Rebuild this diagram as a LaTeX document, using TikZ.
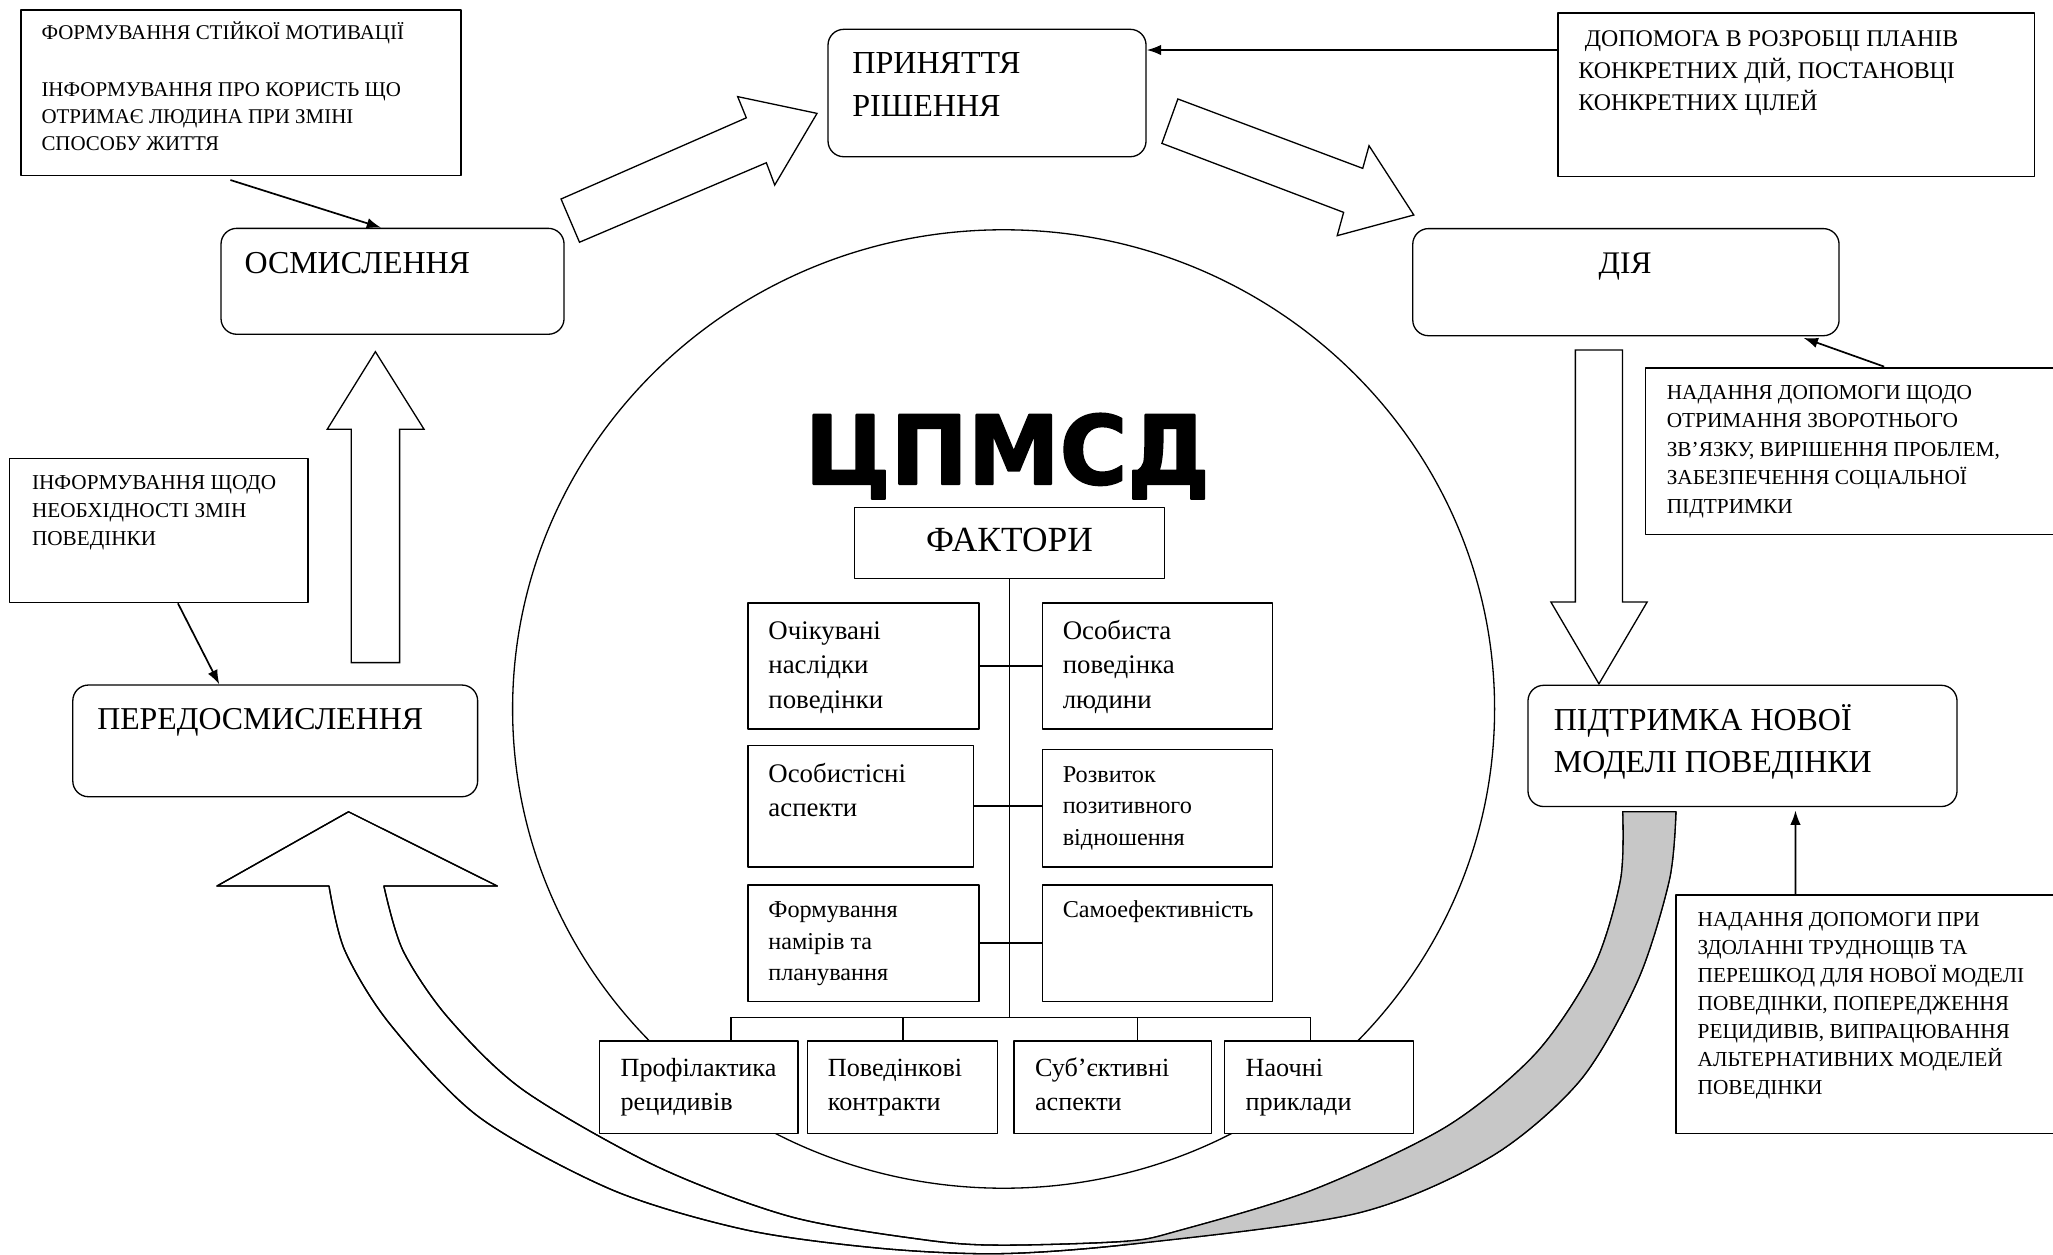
\documentclass[tikz,border=0pt]{standalone}
\usepackage{fontspec}
\setmainfont{Liberation Serif}
\newfontfamily\bigsans{DejaVu Sans}[BoldFeatures={FakeBold=2}]
\usetikzlibrary{calc,arrows.meta}
\newcommand\fs[2]{\fontsize{#1}{#2}\selectfont}
\newcommand\mlines[3]{\parbox[t]{400pt}{\fs{#1}{#2}#3}}
\begin{document}
\begin{tikzpicture}[x=1pt,y=-1pt,line join=round,
  sqbox/.style={draw, fill=white, line width=1pt, inner sep=0pt},
  rbox/.style={draw, fill=white, line width=1pt, rounded corners=12pt, inner sep=0pt},
  txt/.style={anchor=base west, inner sep=0pt, outer sep=0pt},
  arr/.style={line width=1.3pt, -{Latex[length=11pt,width=8pt]}},
  barrow/.style={draw, fill=white, line width=1pt, line join=miter},
  tline/.style={line width=1pt},
  ribbon/.style={insert path={(266.2,620) -- (165.7,676.7) -- (251.3,676.7)
    -- plot[smooth] coordinates {(251.3,676.7) (263.2,725.6) (297.4,781.6) (365.5,852.9) (467.8,908.9) (570,939.4) (672.4,953.4) (763.8,957.5) (866,950) (1036.6,926.6) (1138.8,883.4) (1207,825) (1251,748.5) (1275,672) (1280,620)}
    -- (1239.4,620)
    -- plot[smooth] coordinates {(1239.4,620) (1237.7,672) (1217.3,738.3) (1173,804.5) (1104.7,860.5) (1002.4,908.9) (900,940) (860,948) (763.8,951) (706.5,947) (604,929.3) (501.9,891) (399.6,832.5) (341.6,776.5) (307.6,725.6) (293.2,676.7)}
    -- (379.8,676.7) -- cycle}}
]
\path[use as bounding box, fill=white] (0,0) rectangle (1568,958);

% big circle
\draw[line width=1pt] (766.5,541.5) ellipse [x radius=375pt, y radius=366pt];

% curved ribbon arrow
\filldraw[fill=white, draw=black, line width=1pt, ribbon];
\begin{scope}
  \clip (858,600) rectangle (1300,970);
  \fill[black!22, ribbon];
\end{scope}
\draw[line width=1pt, ribbon];

% stage boxes
\node[rbox, minimum width=262pt, minimum height=80.9pt] (osm) at (299.8,214.85) {};
\node[rbox, minimum width=242.9pt, minimum height=97.3pt] (prin) at (753.85,71.05) {};
\node[rbox, minimum width=325.6pt, minimum height=81.8pt] (dia) at (1241.8,215.5) {};
\node[rbox, minimum width=327.7pt, minimum height=92.6pt] (pidtr) at (1330.85,569.7) {};
\node[rbox, minimum width=309.2pt, minimum height=85.3pt] (pered) at (210.2,565.85) {};

% info boxes
\node[sqbox, minimum width=336pt, minimum height=126.6pt] (tl) at (184,70.9) {};
\node[sqbox, minimum width=364pt, minimum height=125pt] (dop) at (1372,72.5) {};
\node[sqbox, minimum width=318pt, minimum height=127pt] (nad1) at (1416,344.5) {};
\node[sqbox, minimum width=295pt, minimum height=181.9pt] (nad2) at (1427.5,774.55) {};
\node[sqbox, minimum width=227.8pt, minimum height=110.3pt] (inf) at (121.4,405.15) {};

% factors tree
\node[sqbox, minimum width=236.5pt, minimum height=54.5pt] (fakt) at (771.05,414.75) {};
\coordinate (barL) at (558.3,777);
\coordinate (barR) at (1001,777);
\coordinate (d2) at (689.7,777);
\coordinate (d3) at (868.6,777);
\draw[tline] (fakt.south) -- (fakt.south |- barL);
\draw[tline] (barL) -- (barR);
\node[sqbox, minimum width=176.2pt, minimum height=96.3pt] (f1) at (659.5,508.65) {};
\node[sqbox, minimum width=176pt, minimum height=96.3pt] (f2) at (884,508.65) {};
\node[sqbox, minimum width=172.1pt, minimum height=92.9pt] (f3) at (657.45,615.65) {};
\node[sqbox, minimum width=176pt, minimum height=89.7pt] (f4) at (884,617.25) {};
\node[sqbox, minimum width=176.2pt, minimum height=88.8pt] (f5) at (659.5,720.3) {};
\node[sqbox, minimum width=176pt, minimum height=88.8pt] (f6) at (884,720.3) {};
\node[sqbox, minimum width=151.5pt, minimum height=70.6pt] (b1) at (533.65,830.3) {};
\node[sqbox, minimum width=145.2pt, minimum height=70.6pt] (b2) at (689.3,830.3) {};
\node[sqbox, minimum width=151pt, minimum height=70.6pt] (b3) at (850,830.3) {};
\node[sqbox, minimum width=144.2pt, minimum height=70.6pt] (b4) at (1007.3,830.3) {};
\draw[tline] (f1.east) -- (f2.west);
\draw[tline] (f3.east) -- (f3.east -| f4.west);
\draw[tline] (f5.east) -- (f6.west);
\draw[tline] (barL) -- (barL |- b1.north);
\draw[tline] (d2) -- (d2 |- b2.north);
\draw[tline] (d3) -- (d3 |- b3.north);
\draw[tline] (barR) -- (barR |- b4.north);

% block arrows
\path[barrow] (428.5,152) -- (570,90) -- (563.4,73.8) -- (624,86.6) -- (591.7,141.3) -- (585.3,124.3) -- (442.6,185) -- cycle;
\path[barrow] (899.6,75.6) -- (1040.8,128.6) -- (1045.6,111.3) -- (1079.8,164.2) -- (1021.3,180) -- (1026.2,162.2) -- (887.4,109.5) -- cycle;
\path[barrow] (1203.2,267.3) -- (1239.2,267.3) -- (1239.2,459.8) -- (1258,459.8) -- (1221.2,522.3) -- (1184.5,459.8) -- (1203.2,459.8) -- cycle;
\path[barrow] (268.3,506.1) -- (305.2,506.1) -- (305.2,327.9) -- (323.9,327.9) -- (286.7,268.6) -- (249.9,327.9) -- (268.3,327.9) -- cycle;

% thin arrows
\coordinate (tlA) at (176,137.5);
\draw[arr] (tlA) -- ($(osm.north west)+(122.8,0)$);
\draw[arr] ($(dop.north west)+(0,28.7)$) -- ($(prin.north east)+(0,16.3)$);
\coordinate (n1A) at (1439,280);
\draw[arr] (n1A) -- ($(dia.south east)+(-27.6,1.2)$);
\draw[arr] ($(nad2.north west)+(91.8,0)$) -- ($(pidtr.south west)+(204.8,2.5)$);
\draw[arr] ($(inf.south west)+(128.9,0)$) -- ($(pered.north west)+(112.4,0)$);

% texts
\node[txt, font=\fs{16}{20.7}] (tlT1) at (31.7,30.5) {ФОРМУВАННЯ СТІЙКОЇ МОТИВАЦІЇ};
\node[txt] (tlT2) at (31.7,73.8) {\mlines{16}{20.65}{ІНФОРМУВАННЯ ПРО КОРИСТЬ ЩО\\ОТРИМАЄ ЛЮДИНА ПРИ ЗМІНІ\\СПОСОБУ ЖИТТЯ}};
\node[txt] (prinT) at (651,56) {\mlines{24.5}{33.1}{ПРИНЯТТЯ\\РІШЕННЯ}};
\node[txt, font=\fs{24.4}{29}] (osmT) at (186.8,208.8) {ОСМИСЛЕННЯ};
\node[txt] (dopT) at (1205.5,35.5) {\mlines{18.25}{24.3}{\hspace*{5pt}ДОПОМОГА В РОЗРОБЦІ ПЛАНІВ\\КОНКРЕТНИХ ДІЙ, ПОСТАНОВЦІ\\КОНКРЕТНИХ ЦІЛЕЙ}};
\node[txt, font=\fs{24}{29}] (diaT) at (1221,208.7) {ДІЯ};
\node[txt] (nad1T) at (1273,305) {\mlines{16.3}{21.8}{НАДАННЯ ДОПОМОГИ ЩОДО\\ОТРИМАННЯ ЗВОРОТНЬОГО\\ЗВ’ЯЗКУ, ВИРІШЕННЯ ПРОБЛЕМ,\\ЗАБЕЗПЕЧЕННЯ СОЦІАЛЬНОЇ\\ПІДТРИМКИ}};
\node[txt] (pidtrT) at (1186.8,557.9) {\mlines{24.4}{32.1}{ПІДТРИМКА НОВОЇ\\МОДЕЛІ ПОВЕДІНКИ}};
\node[txt] (nad2T) at (1296.6,707.6) {\mlines{16.3}{21.4}{НАДАННЯ ДОПОМОГИ ПРИ\\ЗДОЛАННІ ТРУДНОЩІВ ТА\\ПЕРЕШКОД ДЛЯ НОВОЇ МОДЕЛІ\\ПОВЕДІНКИ, ПОПЕРЕДЖЕННЯ\\РЕЦИДИВІВ, ВИПРАЦЮВАННЯ\\АЛЬТЕРНАТИВНИХ МОДЕЛЕЙ\\ПОВЕДІНКИ}};
\node[txt] (infT) at (24.5,374.2) {\mlines{16.2}{21.4}{ІНФОРМУВАННЯ ЩОДО\\НЕОБХІДНОСТІ ЗМІН\\ПОВЕДІНКИ}};
\node[txt, font=\fs{24.3}{29}] (peredT) at (74.3,557.5) {ПЕРЕДОСМИСЛЕННЯ};
\node[anchor=base, inner sep=0pt, font=\bigsans\bfseries\fs{72.7}{80}] (title) at (769.3,369.7) {\scalebox{0.97}[1]{ЦПМСД}};
\node[anchor=base, inner sep=0pt, font=\fs{27}{32}] (faktT) at (771,421) {ФАКТОРИ};
\node[txt] (f1T) at (586.9,488.2) {\mlines{20.5}{26.5}{Очікувані\\наслідки\\поведінки}};
\node[txt] (f2T) at (811.7,488.2) {\mlines{20.5}{26.5}{Особиста\\поведінка\\людини}};
\node[txt] (f3T) at (586.9,597.3) {\mlines{20.5}{26.5}{Особистісні\\аспекти}};
\node[txt] (f4T) at (811.7,597.3) {\mlines{18.5}{24.2}{Розвиток\\позитивного\\відношення}};
\node[txt] (f5T) at (586.9,701.1) {\mlines{18.5}{23.7}{Формування\\намірів та\\планування}};
\node[txt, font=\fs{18.5}{23.7}] (f6T) at (811.7,701.1) {Самоефективність};
\node[txt] (b1T) at (474,822.3) {\mlines{20}{25.5}{Профілактика\\рецидивів}};
\node[txt] (b2T) at (632.3,822.3) {\mlines{20}{25.5}{Поведінкові\\контракти}};
\node[txt] (b3T) at (790.5,822.3) {\mlines{20}{25.5}{Суб’єктивні\\аспекти}};
\node[txt] (b4T) at (951.4,822.3) {\mlines{20}{25.5}{Наочні\\приклади}};
\end{tikzpicture}
\end{document}
